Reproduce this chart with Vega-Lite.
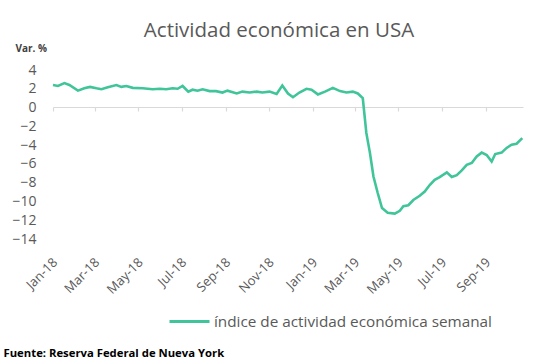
{
  "$schema": "https://vega.github.io/schema/vega-lite/v6.json",
  "autosize": "none",
  "width": 470,
  "height": 169,
  "padding": {"left": 53, "top": 70, "right": 37, "bottom": 125},
  "background": "white",
  "title": {
    "text": "Actividad económica en USA",
    "frame": "group",
    "anchor": "middle",
    "dx": -9,
    "dy": 17,
    "offset": 3,
    "baseline": "alphabetic",
    "font": "Open Sans",
    "fontSize": 20.5,
    "fontWeight": "normal",
    "color": "#595959"
  },
  "data": {
    "values": [
      {"fecha": "2018-01-01", "valor": 2.4},
      {"fecha": "2018-01-08", "valor": 2.3},
      {"fecha": "2018-01-17", "valor": 2.6},
      {"fecha": "2018-01-24", "valor": 2.4},
      {"fecha": "2018-02-05", "valor": 1.8},
      {"fecha": "2018-02-14", "valor": 2.05},
      {"fecha": "2018-02-22", "valor": 2.2},
      {"fecha": "2018-03-03", "valor": 2.05},
      {"fecha": "2018-03-10", "valor": 1.95},
      {"fecha": "2018-03-19", "valor": 2.15},
      {"fecha": "2018-03-31", "valor": 2.4},
      {"fecha": "2018-04-07", "valor": 2.2},
      {"fecha": "2018-04-14", "valor": 2.3},
      {"fecha": "2018-04-23", "valor": 2.1},
      {"fecha": "2018-05-07", "valor": 2.05},
      {"fecha": "2018-05-21", "valor": 1.95},
      {"fecha": "2018-05-31", "valor": 2.0},
      {"fecha": "2018-06-09", "valor": 1.95},
      {"fecha": "2018-06-18", "valor": 2.05},
      {"fecha": "2018-06-25", "valor": 2.0},
      {"fecha": "2018-07-02", "valor": 2.3},
      {"fecha": "2018-07-10", "valor": 1.7},
      {"fecha": "2018-07-16", "valor": 1.9},
      {"fecha": "2018-07-23", "valor": 1.8},
      {"fecha": "2018-07-30", "valor": 1.95},
      {"fecha": "2018-08-09", "valor": 1.75},
      {"fecha": "2018-08-18", "valor": 1.75},
      {"fecha": "2018-08-27", "valor": 1.6},
      {"fecha": "2018-09-03", "valor": 1.8},
      {"fecha": "2018-09-16", "valor": 1.5},
      {"fecha": "2018-09-24", "valor": 1.7},
      {"fecha": "2018-10-04", "valor": 1.6},
      {"fecha": "2018-10-14", "valor": 1.7},
      {"fecha": "2018-10-22", "valor": 1.6},
      {"fecha": "2018-11-01", "valor": 1.7},
      {"fecha": "2018-11-11", "valor": 1.45},
      {"fecha": "2018-11-19", "valor": 2.35},
      {"fecha": "2018-11-27", "valor": 1.5},
      {"fecha": "2018-12-04", "valor": 1.1},
      {"fecha": "2018-12-13", "valor": 1.6},
      {"fecha": "2018-12-23", "valor": 2.0},
      {"fecha": "2018-12-30", "valor": 1.9},
      {"fecha": "2019-01-08", "valor": 1.4},
      {"fecha": "2019-01-18", "valor": 1.7},
      {"fecha": "2019-01-29", "valor": 2.1},
      {"fecha": "2019-02-08", "valor": 1.75},
      {"fecha": "2019-02-17", "valor": 1.6},
      {"fecha": "2019-02-26", "valor": 1.7},
      {"fecha": "2019-03-05", "valor": 1.5},
      {"fecha": "2019-03-12", "valor": 1.0},
      {"fecha": "2019-03-17", "valor": -2.7},
      {"fecha": "2019-03-22", "valor": -4.8},
      {"fecha": "2019-03-27", "valor": -7.35},
      {"fecha": "2019-04-02", "valor": -9.1},
      {"fecha": "2019-04-08", "valor": -10.7},
      {"fecha": "2019-04-16", "valor": -11.2},
      {"fecha": "2019-04-26", "valor": -11.3},
      {"fecha": "2019-05-03", "valor": -11.0},
      {"fecha": "2019-05-08", "valor": -10.5},
      {"fecha": "2019-05-15", "valor": -10.4},
      {"fecha": "2019-05-22", "valor": -9.85},
      {"fecha": "2019-05-31", "valor": -9.4},
      {"fecha": "2019-06-07", "valor": -8.95},
      {"fecha": "2019-06-14", "valor": -8.25},
      {"fecha": "2019-06-21", "valor": -7.7},
      {"fecha": "2019-06-28", "valor": -7.4},
      {"fecha": "2019-07-08", "valor": -6.9},
      {"fecha": "2019-07-15", "valor": -7.4},
      {"fecha": "2019-07-22", "valor": -7.2},
      {"fecha": "2019-07-29", "valor": -6.7},
      {"fecha": "2019-08-05", "valor": -6.1},
      {"fecha": "2019-08-12", "valor": -5.9},
      {"fecha": "2019-08-19", "valor": -5.2},
      {"fecha": "2019-08-26", "valor": -4.8},
      {"fecha": "2019-09-02", "valor": -5.05},
      {"fecha": "2019-09-09", "valor": -5.75},
      {"fecha": "2019-09-14", "valor": -4.95},
      {"fecha": "2019-09-23", "valor": -4.8},
      {"fecha": "2019-09-30", "valor": -4.3},
      {"fecha": "2019-10-07", "valor": -3.95},
      {"fecha": "2019-10-14", "valor": -3.85},
      {"fecha": "2019-10-22", "valor": -3.25}
    ]
  },
  "transform": [{"calculate": "'índice de actividad económica semanal'", "as": "serie"}],
  "mark": {"type": "line", "strokeWidth": 2.6, "interpolate": "linear"},
  "encoding": {
    "x": {
      "field": "fecha",
      "type": "temporal",
      "scale": {"domain": ["2018-01-01T00:00:00", "2019-10-23T00:00:00"]},
      "axis": {
        "title": "Fuente: Reserva Federal de Nueva York",
        "titleX": -50,
        "titleY": 246,
        "titleAlign": "left",
        "titleAnchor": null,
        "titleBaseline": "middle",
        "titleFont": "Open Sans",
        "titleFontSize": 11.3,
        "titleFontWeight": "bold",
        "titleColor": "#000000",
        "offset": -132,
        "tickCount": {"interval": "month", "step": 2},
        "format": "%b-%y",
        "labelAngle": -45,
        "labelAlign": "right",
        "labelBaseline": "middle",
        "labelPadding": 149,
        "labelOffset": 2,
        "labelFont": "Open Sans",
        "labelFontSize": 13,
        "labelColor": "#595959",
        "labelFlush": false,
        "labelOverlap": false,
        "domainColor": "#d9d9d9",
        "domainWidth": 1.2,
        "tickColor": "#d9d9d9",
        "tickSize": 4,
        "tickWidth": 1.2,
        "grid": false
      }
    },
    "y": {
      "field": "valor",
      "type": "quantitative",
      "scale": {"domain": [-14, 4], "nice": false},
      "axis": {
        "title": "Var. %",
        "titleAngle": 0,
        "titleX": -38,
        "titleY": -22,
        "titleAlign": "left",
        "titleAnchor": null,
        "titleBaseline": "middle",
        "titleFont": "Open Sans",
        "titleFontSize": 10,
        "titleFontWeight": "bold",
        "titleColor": "#404040",
        "values": [-14, -12, -10, -8, -6, -4, -2, 0, 2, 4],
        "domain": false,
        "ticks": false,
        "grid": false,
        "labelPadding": 17,
        "labelFont": "Open Sans",
        "labelFontSize": 14,
        "labelColor": "#595959"
      }
    },
    "color": {
      "field": "serie",
      "type": "nominal",
      "scale": {"range": ["#40c49a"]},
      "legend": {
        "title": null,
        "orient": "none",
        "legendX": 115,
        "legendY": 230,
        "padding": 0,
        "symbolType": "stroke",
        "symbolSize": 1600,
        "symbolStrokeWidth": 3,
        "labelFont": "Open Sans",
        "labelFontSize": 15.3,
        "labelColor": "#595959",
        "labelOffset": 3,
        "labelLimit": 400
      }
    }
  },
  "config": {"view": {"stroke": null}}
}
